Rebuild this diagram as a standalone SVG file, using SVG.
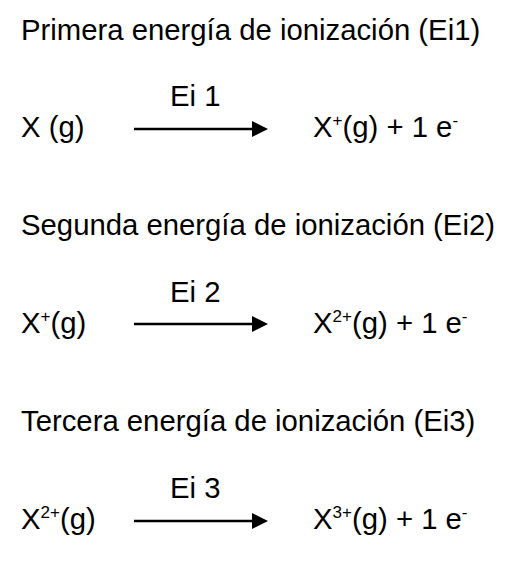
<svg xmlns="http://www.w3.org/2000/svg" width="521" height="566" viewBox="0 0 521 566">
<style>
text{font-family:"Liberation Sans",Arial,sans-serif;font-size:29.3px;fill:#000}
.sup{font-size:17px}
.arr{stroke:#000;stroke-width:2.5;fill:none}
</style>
<rect width="521" height="566" fill="#fff"/>
<g id="title1"><text x="21" y="40">Primera energía de ionización (Ei1)</text></g>
<g id="title2"><text x="21" y="235">Segunda energía de ionización (Ei2)</text></g>
<g id="title3"><text x="21" y="431">Tercera energía de ionización (Ei3)</text></g>
<g id="r1">
<text x="21" y="137">X (g)</text>
<text x="170" y="106">Ei 1</text>
<text x="313" y="137">X<tspan class="sup" dy="-11">+</tspan><tspan dy="11">(g) + 1 e</tspan><tspan class="sup" dy="-11">-</tspan></text>
</g>
<g id="r2">
<text x="21" y="333">X<tspan class="sup" dy="-11">+</tspan><tspan dy="11">(g)</tspan></text>
<text x="170" y="302">Ei 2</text>
<text x="313" y="333">X<tspan class="sup" dy="-11">2+</tspan><tspan dy="11">(g) + 1 e</tspan><tspan class="sup" dy="-11">-</tspan></text>
</g>
<g id="r3">
<text x="21" y="529">X<tspan class="sup" dy="-11">2+</tspan><tspan dy="11">(g)</tspan></text>
<text x="170" y="498">Ei 3</text>
<text x="313" y="529">X<tspan class="sup" dy="-11">3+</tspan><tspan dy="11">(g) + 1 e</tspan><tspan class="sup" dy="-11">-</tspan></text>
</g>
<g id="connectors">
<path class="arr" d="M134,129 H254"/><path d="M252,121 L268,129 L252,137 z"/>
<path class="arr" d="M134,324 H254"/><path d="M252,316 L268,324 L252,332 z"/>
<path class="arr" d="M134,521 H254"/><path d="M252,513 L268,521 L252,529 z"/>
</g>
</svg>
